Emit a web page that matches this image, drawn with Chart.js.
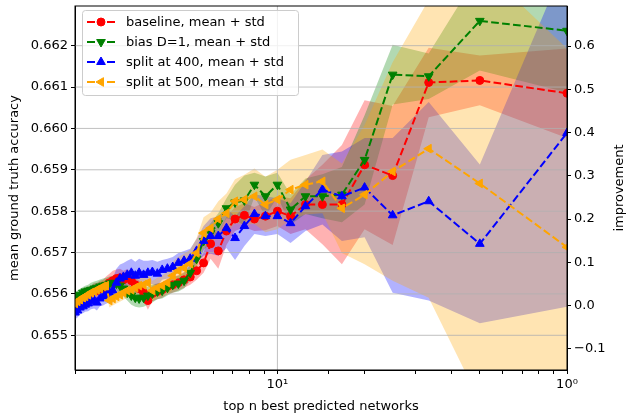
<!DOCTYPE html>
<html>
<head>
<meta charset="utf-8">
<script src="https://cdn.jsdelivr.net/npm/chart.js@4.4.1/dist/chart.umd.min.js"></script>
<style>
  html, body { margin: 0; padding: 0; background: #fff; }
  canvas { display: block; }
</style>
</head>
<body>
<canvas id="chart" width="627" height="417"></canvas>
<script>
// top n best predicted networks (x)
const topN = [2, 2.04, 2.08, 2.13, 2.17, 2.22, 2.27, 2.33, 2.38, 2.44,
  2.5, 2.56, 2.63, 2.7, 2.78, 2.86, 2.94, 3.03, 3.13, 3.23,
  3.33, 3.45, 3.57, 3.7, 3.85, 4, 4.17, 4.35, 4.55, 4.76,
  5, 5.26, 5.56, 5.88, 6.25, 6.67, 7.14, 7.69, 8.33, 9.09,
  10, 11.1, 12.5, 14.3, 16.7, 20, 25, 33.3, 50, 100];

const baselineMean = [0.65584, 0.65589, 0.65591, 0.65594, 0.65598, 0.65601, 0.65603, 0.65608, 0.65608, 0.65613,
  0.65615, 0.65620, 0.65627, 0.65632, 0.65637, 0.65639, 0.65634, 0.65641, 0.65632, 0.65622,
  0.65613, 0.65603, 0.65584, 0.65601, 0.65606, 0.65610, 0.65618, 0.65622, 0.65627, 0.65634,
  0.65641, 0.65656, 0.65675, 0.65721, 0.65704, 0.65752, 0.65781, 0.65790, 0.65781, 0.65788,
  0.65800, 0.65788, 0.65816, 0.65816, 0.65816, 0.65912, 0.65886, 0.66111, 0.66116, 0.66085];
const baselineStd = [0.00014, 0.00014, 0.00014, 0.00017, 0.00017, 0.00017, 0.00017, 0.00019, 0.00019, 0.00019,
  0.00019, 0.00022, 0.00022, 0.00024, 0.00022, 0.00022, 0.00022, 0.00019, 0.00019, 0.00019,
  0.00019, 0.00019, 0.00022, 0.00019, 0.00019, 0.00019, 0.00019, 0.00019, 0.00019, 0.00019,
  0.00019, 0.00022, 0.00024, 0.00036, 0.00043, 0.00034, 0.00029, 0.00029, 0.00029, 0.00034,
  0.00036, 0.00043, 0.00060, 0.00096, 0.00144, 0.00156, 0.00168, 0.00084, 0.00060, 0.00108];

const biasMean = [0.65589, 0.65594, 0.65598, 0.65603, 0.65606, 0.65608, 0.65610, 0.65613, 0.65615, 0.65618,
  0.65620, 0.65622, 0.65625, 0.65627, 0.65625, 0.65620, 0.65613, 0.65603, 0.65596, 0.65591,
  0.65589, 0.65591, 0.65596, 0.65601, 0.65606, 0.65608, 0.65615, 0.65622, 0.65625, 0.65632,
  0.65651, 0.65685, 0.65728, 0.65747, 0.65771, 0.65807, 0.65821, 0.65826, 0.65864, 0.65836,
  0.65864, 0.65804, 0.65836, 0.65836, 0.65840, 0.65924, 0.66130, 0.66126, 0.66260, 0.66236];
const biasStd = [0.00014, 0.00014, 0.00014, 0.00014, 0.00014, 0.00014, 0.00017, 0.00017, 0.00017, 0.00017,
  0.00017, 0.00017, 0.00017, 0.00017, 0.00017, 0.00019, 0.00019, 0.00019, 0.00022, 0.00022,
  0.00022, 0.00022, 0.00022, 0.00022, 0.00019, 0.00019, 0.00019, 0.00019, 0.00019, 0.00019,
  0.00019, 0.00019, 0.00022, 0.00024, 0.00024, 0.00024, 0.00043, 0.00060, 0.00029, 0.00048,
  0.00029, 0.00036, 0.00043, 0.00053, 0.00067, 0.00108, 0.00072, 0.00055, 0.00120, 0.00149];

const split400Mean = [0.65555, 0.65560, 0.65567, 0.65570, 0.65574, 0.65577, 0.65582, 0.65584, 0.65579, 0.65589,
  0.65594, 0.65598, 0.65603, 0.65608, 0.65627, 0.65637, 0.65641, 0.65646, 0.65651, 0.65644,
  0.65651, 0.65646, 0.65651, 0.65653, 0.65649, 0.65658, 0.65661, 0.65665, 0.65675, 0.65680,
  0.65685, 0.65704, 0.65728, 0.65740, 0.65740, 0.65759, 0.65735, 0.65764, 0.65793, 0.65788,
  0.65788, 0.65771, 0.65812, 0.65852, 0.65836, 0.65857, 0.65790, 0.65824, 0.65721, 0.65989];
const split400Std = [0.00017, 0.00017, 0.00017, 0.00017, 0.00017, 0.00019, 0.00019, 0.00019, 0.00019, 0.00019,
  0.00022, 0.00022, 0.00024, 0.00029, 0.00034, 0.00034, 0.00034, 0.00034, 0.00034, 0.00034,
  0.00034, 0.00034, 0.00029, 0.00029, 0.00029, 0.00024, 0.00024, 0.00024, 0.00024, 0.00024,
  0.00024, 0.00029, 0.00036, 0.00043, 0.00048, 0.00048, 0.00053, 0.00048, 0.00048, 0.00048,
  0.00043, 0.00048, 0.00060, 0.00084, 0.00108, 0.00120, 0.00187, 0.00240, 0.00192, 0.00420];

const split500Mean = [0.65577, 0.65582, 0.65586, 0.65591, 0.65594, 0.65598, 0.65603, 0.65606, 0.65610, 0.65613,
  0.65618, 0.65620, 0.65584, 0.65589, 0.65594, 0.65598, 0.65603, 0.65608, 0.65610, 0.65615,
  0.65620, 0.65622, 0.65627, 0.65608, 0.65615, 0.65620, 0.65627, 0.65644, 0.65656, 0.65663,
  0.65673, 0.65699, 0.65747, 0.65759, 0.65781, 0.65795, 0.65824, 0.65828, 0.65836, 0.65816,
  0.65828, 0.65852, 0.65864, 0.65872, 0.65807, 0.65840, 0.65896, 0.65951, 0.65867, 0.65713];
const split500Std = [0.00014, 0.00014, 0.00014, 0.00014, 0.00014, 0.00014, 0.00014, 0.00014, 0.00014, 0.00014,
  0.00014, 0.00017, 0.00017, 0.00017, 0.00017, 0.00017, 0.00017, 0.00017, 0.00017, 0.00019,
  0.00019, 0.00019, 0.00022, 0.00024, 0.00024, 0.00024, 0.00029, 0.00034, 0.00034, 0.00034,
  0.00034, 0.00036, 0.00038, 0.00038, 0.00043, 0.00048, 0.00053, 0.00060, 0.00067, 0.00067,
  0.00072, 0.00072, 0.00072, 0.00077, 0.00108, 0.00168, 0.00264, 0.00360, 0.00527, 0.00480];

const seriesLabels = ['baseline, mean + std', 'bias D=1, mean + std', 'split at 400, mean + std', 'split at 500, mean + std'];
const xTickLabels = [[10, '10\u00b9'], [100, '10\u2070']];

const series = [
  { label: seriesLabels[0], mean: baselineMean, std: baselineStd, color: '#ff0000', band: 'rgba(255, 0, 0, 0.3)', marker: 'circle', rot: 0, r: 4 },
  { label: seriesLabels[1], mean: biasMean, std: biasStd, color: '#008000', band: 'rgba(0, 128, 0, 0.3)', marker: 'triangle', rot: 180, r: 5 },
  { label: seriesLabels[2], mean: split400Mean, std: split400Std, color: '#0000ff', band: 'rgba(0, 0, 255, 0.3)', marker: 'triangle', rot: 0, r: 5 },
  { label: seriesLabels[3], mean: split500Mean, std: split500Std, color: '#ffa500', band: 'rgba(255, 165, 0, 0.3)', marker: 'triangle', rot: 270, r: 5 }
];

const datasets = [];
// std bands: lower edge + upper edge filled down to it
series.forEach((s, i) => {
  const lowerIdx = datasets.length;
  datasets.push({
    label: '_lower', data: topN.map((x, j) => ({ x, y: s.mean[j] - s.std[j] })),
    borderColor: 'rgba(0,0,0,0)', borderWidth: 0, pointRadius: 0, fill: false, order: 20 - i, clip: 0
  });
  datasets.push({
    label: '_upper', data: topN.map((x, j) => ({ x, y: s.mean[j] + s.std[j] })),
    borderColor: 'rgba(0,0,0,0)', borderWidth: 0, pointRadius: 0,
    fill: lowerIdx, backgroundColor: s.band, order: 20 - i, clip: 0
  });
});
// mean lines
series.forEach((s, i) => {
  datasets.push({
    label: s.label, data: topN.map((x, j) => ({ x, y: s.mean[j] })),
    borderColor: s.color, borderWidth: 2, borderDash: [7.7, 3.3],
    pointStyle: s.marker, pointRotation: s.rot, pointRadius: s.r,
    pointBackgroundColor: s.color, pointBorderColor: s.color, pointBorderWidth: 1,
    fill: false, tension: 0, order: 4 - i, clip: 0
  });
});

const FONT = '13px "DejaVu Sans"';

const mplFrame = {
  id: 'mplFrame',
  beforeDatasetsDraw(chart) {
    // grid drawn over the bands, under the lines
    const { ctx, chartArea: a, scales } = chart;
    ctx.save();
    ctx.strokeStyle = '#b0b0b0';
    ctx.lineWidth = 0.8;
    scales.y.ticks.forEach(t => {
      const py = scales.y.getPixelForValue(t.value);
      ctx.beginPath(); ctx.moveTo(a.left, py); ctx.lineTo(a.right, py); ctx.stroke();
    });
    const px = scales.x.getPixelForValue(10);
    ctx.beginPath(); ctx.moveTo(px, a.top); ctx.lineTo(px, a.bottom); ctx.stroke();
    ctx.restore();
  },
  afterDraw(chart) {
    const { ctx, chartArea: a } = chart;
    ctx.save();
    ctx.strokeStyle = '#000';
    ctx.lineWidth = 1;
    ctx.strokeRect(a.left, a.top, a.right - a.left, a.bottom - a.top);

    // axis titles
    ctx.fillStyle = '#000';
    ctx.font = FONT;
    ctx.textAlign = 'center';
    ctx.textBaseline = 'middle';
    ctx.fillText('top n best predicted networks', (a.left + a.right) / 2, 407);
    ctx.save();
    ctx.translate(15, (a.top + a.bottom) / 2);
    ctx.rotate(-Math.PI / 2);
    ctx.fillText('mean ground truth accuracy', 0, 0);
    ctx.restore();
    ctx.save();
    ctx.translate(620, (a.top + a.bottom) / 2);
    ctx.rotate(-Math.PI / 2);
    ctx.fillText('improvement', 0, 0);
    ctx.restore();

    // legend
    const bx = 82, by = 10, bw = 216, bh = 85;
    ctx.beginPath();
    ctx.roundRect(bx + 0.5, by + 0.5, bw, bh, 3);
    ctx.fillStyle = 'rgba(255,255,255,0.8)';
    ctx.fill();
    ctx.strokeStyle = '#cccccc';
    ctx.stroke();
    series.forEach((s, i) => {
      const y = by + 12 + i * 20;
      ctx.strokeStyle = s.color;
      ctx.lineWidth = 2;
      ctx.beginPath();
      ctx.moveTo(87, y); ctx.lineTo(95, y);
      ctx.moveTo(107, y); ctx.lineTo(115, y);
      ctx.stroke();
      ctx.fillStyle = s.color;
      ctx.lineWidth = 1;
      Chart.helpers.drawPoint(ctx, { pointStyle: s.marker, rotation: s.rot, radius: s.r, borderWidth: 1 }, 101, y);
      ctx.fillStyle = '#000';
      ctx.textAlign = 'left';
      ctx.fillText(s.label, 126, y + 1);
    });
    ctx.restore();
  }
};

new Chart(document.getElementById('chart'), {
  type: 'line',
  data: { datasets },
  options: {
    responsive: false,
    animation: false,
    devicePixelRatio: 1,
    layout: { padding: { top: 3, left: 0, right: 0, bottom: 0 } },
    font: { family: 'DejaVu Sans', size: 13 },
    plugins: {
      legend: { display: false },
      tooltip: { enabled: false },
      filler: { drawTime: 'beforeDatasetsDraw' }
    },
    scales: {
      x: {
        type: 'logarithmic', position: 'bottom', min: 2, max: 100,
        afterFit(s) { s.height = 47; s.paddingLeft = 0; s.paddingRight = 0; },
        grid: { drawOnChartArea: false, tickColor: '#000', tickLength: 4 },
        border: { color: '#000', width: 1 },
        ticks: {
          autoSkip: false, maxRotation: 0, color: '#000', padding: 3,
          font: { family: 'DejaVu Sans', size: 13 },
          callback(v) {
            const hit = xTickLabels.find(p => Math.abs(p[0] - v) < 1e-6);
            return hit ? hit[1] : '';
          }
        }
      },
      y: {
        type: 'linear', position: 'left', min: 0.654161, max: 0.662959,
        afterFit(s) { s.width = 75; s.paddingTop = 0; s.paddingBottom = 0; },
        grid: { drawOnChartArea: false, tickColor: '#000', tickLength: 4 },
        border: { color: '#000', width: 1 },
        ticks: {
          stepSize: 0.001, includeBounds: false, color: '#000', padding: 3,
          font: { family: 'DejaVu Sans', size: 13 },
          callback: v => v.toFixed(3)
        }
      },
      y2: {
        type: 'linear', position: 'right', display: true, min: -0.149, max: 0.6927,
        afterFit(s) { s.width = 60; s.paddingTop = 0; s.paddingBottom = 0; },
        grid: { drawOnChartArea: false, tickColor: '#000', tickLength: 4 },
        border: { color: '#000', width: 1 },
        ticks: {
          stepSize: 0.1, includeBounds: false, color: '#000', padding: 3,
          font: { family: 'DejaVu Sans', size: 13 },
          callback: v => (v < -1e-9 ? '\u2212' : '') + Math.abs(v).toFixed(1)
        }
      }
    }
  },
  plugins: [mplFrame]
});
</script>
</body>
</html>
